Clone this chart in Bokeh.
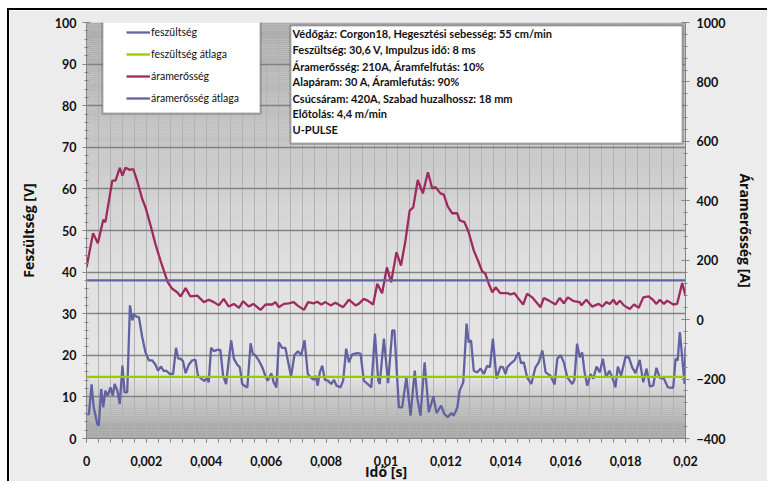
import numpy as np
from bokeh.plotting import figure
from bokeh.models import (Range1d, LinearAxis, SingleIntervalTicker, FixedTicker,
                          Legend, LegendItem, BoxAnnotation, Label)
from bokeh.embed import file_html
from bokeh.resources import INLINE

# ---------------- data ----------------
ido_fesz_ms = [0.00, 0.08, 0.17, 0.24, 0.36, 0.41, 0.49, 0.56, 0.63, 0.71, 0.80, 0.88, 0.94, 1.03, 1.11,
               1.20, 1.27, 1.36, 1.45, 1.53, 1.58, 1.67, 1.75, 1.86, 1.97, 2.08, 2.19, 2.30, 2.39, 2.49,
               2.58, 2.67, 2.78, 2.89, 2.99, 3.06, 3.14, 3.22, 3.31, 3.42, 3.53, 3.64, 3.72, 3.83, 3.94,
               4.03, 4.08, 4.16, 4.25, 4.36, 4.47, 4.56, 4.66, 4.75, 4.83, 4.92, 5.03, 5.12, 5.20, 5.31,
               5.37, 5.48, 5.55, 5.64, 5.75, 5.87, 5.98, 6.05, 6.17, 6.25, 6.34, 6.42, 6.53, 6.64, 6.75,
               6.83, 6.94, 7.06, 7.17, 7.28, 7.39, 7.50, 7.59, 7.65, 7.72, 7.79, 7.87, 7.96, 8.06, 8.17,
               8.26, 8.35, 8.48, 8.57, 8.67, 8.76, 8.87, 9.04, 9.15, 9.26, 9.39, 9.51, 9.63, 9.74, 9.79,
               9.93, 10.07, 10.21, 10.28, 10.43, 10.54, 10.68, 10.82, 10.96, 11.04, 11.15, 11.29, 11.43,
               11.58, 11.69, 11.84, 11.95, 12.06, 12.18, 12.26, 12.38, 12.46, 12.58, 12.69, 12.76, 12.84,
               12.93, 13.05, 13.16, 13.27, 13.38, 13.47, 13.57, 13.69, 13.82, 13.91, 13.99, 14.05, 14.16,
               14.29, 14.43, 14.51, 14.60, 14.71, 14.85, 14.99, 15.10, 15.22, 15.33, 15.49, 15.63, 15.72,
               15.83, 15.94, 16.05, 16.22, 16.29, 16.38, 16.47, 16.55, 16.63, 16.72, 16.83, 16.92, 17.03,
               17.14, 17.24, 17.35, 17.46, 17.57, 17.66, 17.74, 17.85, 18.00, 18.11, 18.22, 18.33, 18.47,
               18.59, 18.70, 18.81, 18.92, 19.03, 19.14, 19.28, 19.41, 19.59, 19.67, 19.74, 19.81, 19.89,
               19.97, 20.00]
fesz_V = [5.9, 5.8, 13.0, 7.5, 3.5, 3.1, 11.9, 7.5, 11.5, 10.3, 12.3, 10.3, 13.1, 11.5, 8.3,
          17.5, 11.1, 11.1, 32.0, 28.4, 29.8, 29.3, 29.2, 24.4, 20.7, 18.8, 18.8, 17.8, 16.3, 17.3,
          16.2, 16.3, 15.5, 15.5, 21.8, 19.2, 19.2, 18.6, 15.7, 17.8, 18.8, 18.9, 15.1, 14.4, 13.8,
          14.7, 13.5, 21.8, 21.0, 21.3, 21.3, 15.1, 13.1, 18.8, 23.6, 19.2, 17.8, 17.1, 13.1, 12.5,
          12.3, 22.9, 20.4, 20.0, 18.8, 17.1, 14.9, 13.9, 15.7, 13.5, 12.3, 23.1, 21.8, 21.8, 17.8,
          14.9, 20.0, 21.0, 20.0, 23.6, 15.5, 14.6, 14.1, 15.1, 12.7, 15.9, 17.5, 14.1, 13.9, 13.1,
          14.1, 12.7, 12.3, 13.9, 21.6, 18.3, 20.2, 20.5, 20.4, 13.9, 13.1, 12.3, 25.2, 13.9, 13.1,
          24.0, 13.3, 26.0, 26.0, 7.5, 7.5, 14.7, 5.5, 16.3, 9.9, 5.5, 18.3, 6.3,
          10.1, 6.1, 7.9, 5.9, 5.1, 6.1, 5.5, 7.4, 11.5, 13.5, 27.6, 23.1, 23.6,
          16.3, 15.9, 16.8, 15.5, 17.5, 17.1, 24.0, 14.4, 17.3, 17.1, 15.5, 17.1, 18.0,
          18.8, 20.7, 18.1, 18.3, 14.7, 13.1, 17.1, 18.3, 21.2, 15.9, 15.1, 13.0, 19.2,
          20.0, 18.3, 14.7, 13.1, 14.1, 22.8, 19.5, 20.7, 15.9, 12.7, 15.5, 14.4, 17.3,
          15.9, 19.2, 14.7, 16.3, 14.4, 12.3, 17.3, 15.1, 19.7, 19.5, 17.1, 15.7, 18.9,
          13.5, 16.8, 12.5, 12.7, 17.0, 14.6, 14.4, 12.3, 12.2, 19.2, 18.8, 25.6, 19.5,
          13.1, 22.0]

ido_aram_ms = [0.00, 0.22, 0.38, 0.56, 0.63, 0.86, 0.97, 1.11, 1.20, 1.30, 1.45, 1.56, 1.69, 1.86, 1.97,
               2.14, 2.30, 2.47, 2.71, 2.86, 3.03, 3.14, 3.31, 3.47, 3.70, 3.92, 4.08, 4.25, 4.42, 4.58,
               4.75, 4.92, 5.09, 5.23, 5.42, 5.57, 5.81, 5.98, 6.20, 6.31, 6.42, 6.59, 6.75, 6.92, 7.04,
               7.26, 7.40, 7.59, 7.70, 7.84, 7.98, 8.15, 8.31, 8.57, 8.76, 8.98, 9.09, 9.26, 9.39, 9.57,
               9.71, 9.87, 10.03, 10.17, 10.35, 10.50, 10.65, 10.79, 10.91, 11.06, 11.23, 11.40, 11.54,
               11.65, 11.82, 11.93, 12.06, 12.21, 12.38, 12.46, 12.62, 12.76, 12.93, 13.07, 13.21, 13.32,
               13.43, 13.55, 13.66, 13.82, 14.05, 14.16, 14.29, 14.43, 14.58, 14.71, 14.88, 15.16, 15.27,
               15.44, 15.66, 15.80, 15.94, 16.07, 16.27, 16.47, 16.52, 16.69, 16.88, 17.10, 17.22, 17.36,
               17.47, 17.59, 17.70, 17.81, 17.94, 18.14, 18.28, 18.44, 18.59, 18.77, 18.91, 19.03, 19.14,
               19.28, 19.39, 19.59, 19.72, 19.89, 20.00]
aram_A = [176, 291, 257, 336, 328, 468, 468, 511, 485, 511, 504, 507, 468, 406, 378,
          317, 255, 199, 126, 104, 92, 78, 106, 78, 81, 59, 67, 59, 48, 70,
          44, 53, 40, 62, 44, 53, 33, 51, 51, 59, 42, 53, 55, 59, 48,
          33, 59, 55, 60, 51, 59, 48, 57, 42, 67, 48, 53, 70, 64, 51,
          121, 89, 176, 126, 227, 182, 266, 367, 378, 470, 425, 496, 442,
          446, 425, 421, 381, 358, 358, 334, 328, 294, 233, 199, 163, 154,
          121, 92, 109, 89, 89, 85, 89, 70, 51, 87, 75, 42, 73,
          64, 51, 73, 55, 75, 62, 59, 48, 67, 44, 53, 44, 59,
          53, 67, 51, 64, 48, 36, 51, 40, 75, 78, 67, 53, 67,
          53, 64, 51, 53, 123, 81]

fesz_atlag_V = 14.8
aram_atlag_A = 132

x_ticks = [0.0, 0.002, 0.004, 0.006, 0.008, 0.01, 0.012, 0.014, 0.016, 0.018, 0.02]
x_tick_labels = ["0", "0,002", "0,004", "0,006", "0,008", "0,01", "0,012", "0,014", "0,016", "0,018", "0,02"]
x_minor_ticks = [round(i * 0.0004, 4) for i in range(51)]

series_names = ["feszültség", "feszültség átlaga", "áramerősség", "áramerősség átlaga"]
info_lines = [
    "Védőgáz: Corgon18, Hegesztési sebesség: 55 cm/min",
    "Feszültség: 30,6 V, Impulzus idő: 8 ms",
    "Áramerősség: 210A, Áramfelfutás: 10%",
    "Alapáram: 30 A, Áramlefutás: 90%",
    "Csúcsáram: 420A, Szabad huzalhossz: 18 mm",
    "Előtolás: 4,4 m/min",
    "U-PULSE",
]

# ---------------- styling ----------------
FONT = "Lato"
LABEL_FONT = "Open Sans"
C_V = "#6262a2"
C_A = "#9e2a5f"
C_VAVG = "#99cc00"
AXIS_C = "#868686"

t_v = np.array(ido_fesz_ms) / 1000.0
t_a = np.array(ido_aram_ms) / 1000.0

p = figure(width=760, height=473, x_range=Range1d(0, 0.02), y_range=Range1d(0, 100),
           output_backend="svg", toolbar_location=None, title=None,
           min_border_left=77, min_border_right=84, min_border_top=12, min_border_bottom=45,
           background_fill_color="#e0e0e0", border_fill_color="#ececec",
           outline_line_color=None, margin=(8, 0, 0, 7),
           styles={"border-top": "2px solid black", "border-left": "2px solid black"})
p.extra_y_ranges = {"amp": Range1d(-400, 1000)}

# background gradient (light band around 15 V, darker top and bottom)
stops_v = [0, 7.5, 11.5, 15, 25, 40, 55, 71, 85, 100]
stops_g = [162, 188, 212, 228, 228, 224, 212, 197, 185, 172]
edges = np.linspace(0, 100, 201)
mids = (edges[:-1] + edges[1:]) / 2
greys = np.interp(mids, stops_v, stops_g).round().astype(int)
cols = ["#%02x%02x%02x" % (g, g, g) for g in greys]
p.quad(left=0, right=0.02, bottom=edges[:-1], top=edges[1:], fill_color=cols,
       line_color=None, level="image")

# grids
p.ygrid.ticker = SingleIntervalTicker(interval=10)
p.ygrid.grid_line_color = "#828282"
p.ygrid.grid_line_width = 1.3
p.xgrid.ticker = FixedTicker(ticks=x_minor_ticks)
p.xgrid.grid_line_color = "#b2b2b2"
p.xgrid.grid_line_width = 1

# lines
r_v = p.line(t_v, fesz_V, line_color=C_V, line_width=2.3)
r_vavg = p.line([0, 0.02], [fesz_atlag_V, fesz_atlag_V], line_color=C_VAVG, line_width=2.3)
r_a = p.line(t_a, aram_A, line_color=C_A, line_width=2.3, y_range_name="amp")
r_aavg = p.line([0, 0.02], [aram_atlag_A, aram_atlag_A], line_color=C_V, line_width=2.3,
                y_range_name="amp")

# axes
def style_axis(ax):
    ax.axis_line_color = AXIS_C
    ax.major_tick_line_color = AXIS_C
    ax.minor_tick_line_color = AXIS_C
    ax.major_label_text_font = FONT
    ax.major_label_text_font_style = "bold"
    ax.major_label_text_font_size = "12.5px"
    ax.major_label_text_color = "#111111"
    ax.axis_label_text_font = LABEL_FONT
    ax.axis_label_text_font_style = "bold"
    ax.axis_label_text_font_size = "14px"
    ax.axis_label_text_color = "#111111"

xa = p.xaxis[0]
xa.ticker = FixedTicker(ticks=x_ticks, minor_ticks=x_minor_ticks)
xa.major_label_overrides = {t: s for t, s in zip(x_ticks, x_tick_labels)}
xa.axis_label = "Idő [s]"
style_axis(xa)
xa.major_tick_in = 0
xa.major_tick_out = 4
xa.minor_tick_in = 0
xa.minor_tick_out = 4
xa.major_label_standoff = 13
xa.axis_label_standoff = -7

ya = p.yaxis[0]
ya.ticker = SingleIntervalTicker(interval=10, num_minor_ticks=5)
ya.axis_label = "Feszültség [V]"
style_axis(ya)
ya.major_tick_in = 4
ya.major_tick_out = 4
ya.minor_tick_in = 2
ya.minor_tick_out = 2
ya.major_label_standoff = 6
ya.axis_label_standoff = 14

ra = LinearAxis(y_range_name="amp", ticker=SingleIntervalTicker(interval=200, num_minor_ticks=5),
                axis_label="Áramerősség [A]")
style_axis(ra)
ra.major_tick_in = 4
ra.major_tick_out = 4
ra.minor_tick_in = 2
ra.minor_tick_out = 2
ra.major_label_standoff = 7
ra.axis_label_standoff = 8
p.add_layout(ra, "right")

# legend box + legend
p.add_layout(BoxAnnotation(left=0.000534, right=0.00581, bottom=78.1, top=100.4,
                           fill_color="white", fill_alpha=1, line_color="black", line_width=2))
legend = Legend(items=[LegendItem(label=series_names[0], renderers=[r_v]),
                       LegendItem(label=series_names[1], renderers=[r_vavg]),
                       LegendItem(label=series_names[2], renderers=[r_a]),
                       LegendItem(label=series_names[3], renderers=[r_aavg])],
                location=(38, 327), glyph_width=24, glyph_height=22, label_height=22,
                label_standoff=1, spacing=0, padding=2, margin=0,
                label_text_font=FONT, label_text_font_size="10.5px", label_text_color="#111111",
                background_fill_alpha=0, border_line_alpha=0)
p.add_layout(legend, "center")

# info box
p.add_layout(BoxAnnotation(left=0.00681, right=0.0199, bottom=70.9, top=99.3,
                           fill_color="white", fill_alpha=1, line_color="black", line_width=2))
info_y = [97.28, 93.39, 89.54, 85.70, 81.85, 78.06, 74.28]
for txt, yy in zip(info_lines, info_y):
    p.add_layout(Label(x=0.00688, y=yy, text=txt, text_font=FONT, text_font_style="bold",
                       text_font_size="11px", text_baseline="middle", text_color="#111111"))

open("out.html", "w").write(file_html(p, INLINE))
